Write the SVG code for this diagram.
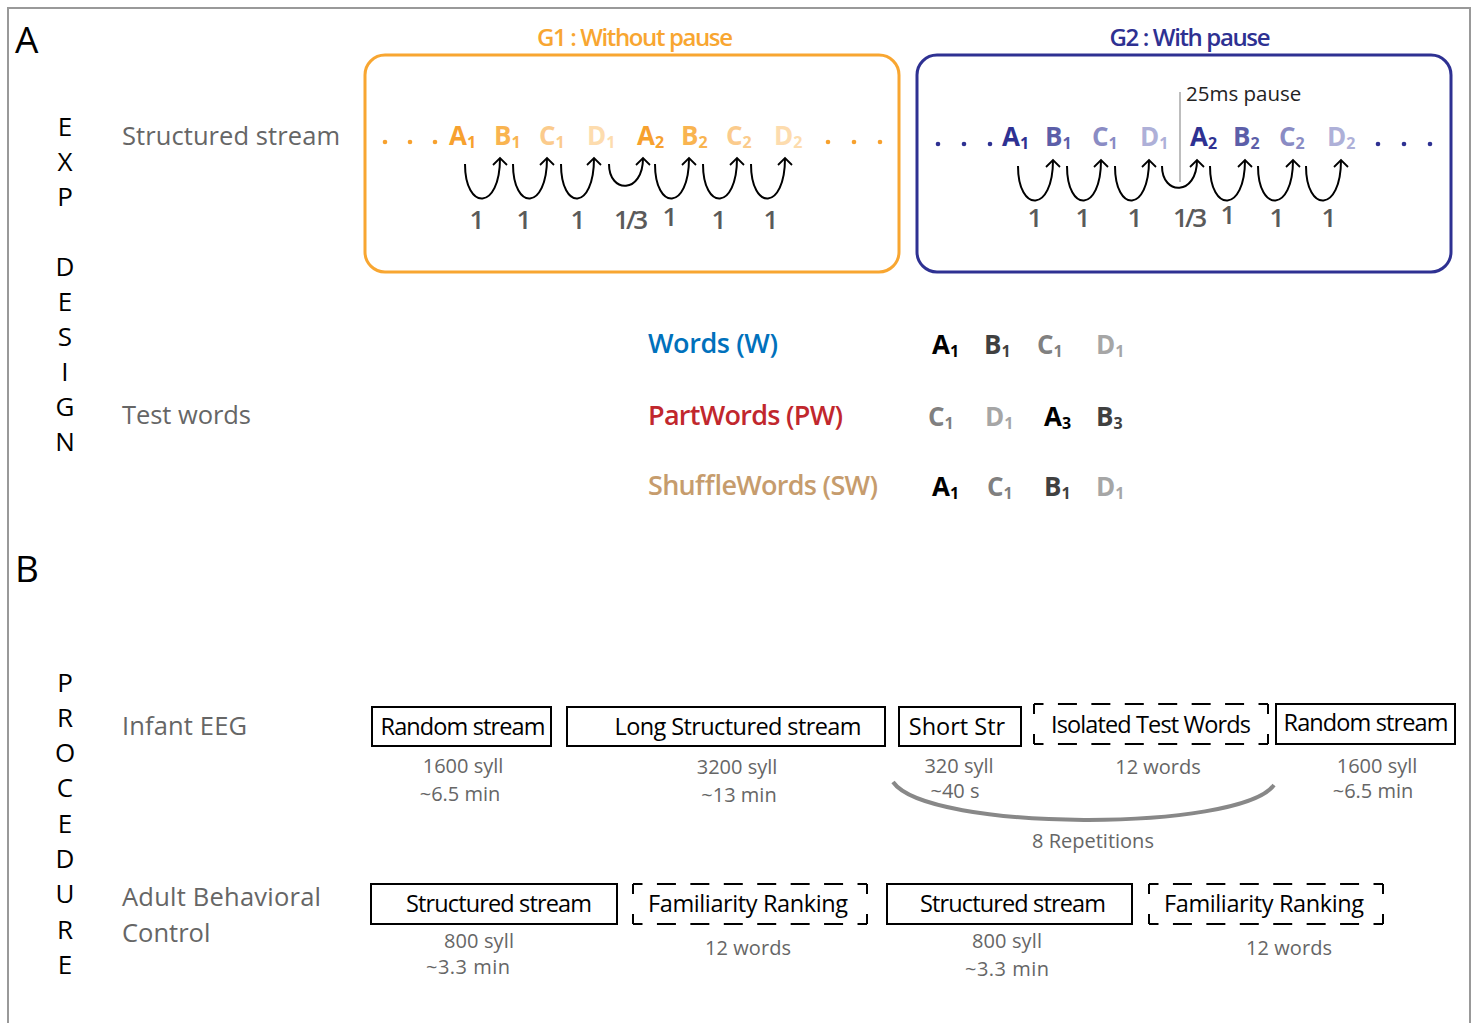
<svg xmlns="http://www.w3.org/2000/svg" width="1477" height="1023" viewBox="0 0 1477 1023">
<style>
text{font-family:"Open Sans","Noto Sans","DejaVu Sans",sans-serif}
.panel{font-size:37px;fill:#000}
.vl{font-size:26px;fill:#000;text-anchor:middle}
.lbl{font-size:25.5px;fill:#666}
.ttl{font-size:24px;font-weight:600;text-anchor:middle}
.syl{font-size:26px;font-weight:700}
.sub{font-size:16px}
.num{font-size:26px;font-weight:600;fill:#5a5a5a;text-anchor:middle}
.tw{font-size:27px;font-weight:600}
.wl{font-size:26px;font-weight:700}
.bt{font-size:23.5px;fill:#000;text-anchor:middle}
.st{font-size:20px;fill:#666;text-anchor:middle}
.box{fill:none;stroke:#000;stroke-width:2}
.dh{stroke:#000;stroke-width:2;stroke-dasharray:19 14.43;stroke-dashoffset:9.5}
.dv{stroke:#000;stroke-width:2;stroke-dasharray:10 20}
.arc{fill:none;stroke:#000;stroke-width:2;marker-end:url(#ah)}
.oA{fill:#F7A12E}.oB{fill:#F9B450}.oC{fill:#FBCB8C}.oD{fill:#FDDCAE}
.nA{fill:#2E3192}.nB{fill:#5C5EA8}.nC{fill:#8A8CC4}.nD{fill:#AEB0D8}
.kA{fill:#000}.kB{fill:#404040}.kC{fill:#808080}.kD{fill:#a6a6a6}
</style>
<defs>
<marker id="ah" markerWidth="16" markerHeight="16" refX="8" refY="8" orient="auto" markerUnits="userSpaceOnUse">
<path d="M1,1 L8,8 L1,15" fill="none" stroke="#000" stroke-width="1.8"/>
</marker>
</defs>
<rect x="8" y="8" width="1462" height="1030" fill="none" stroke="#999" stroke-width="2"/>

<g id="labels">
<text class="panel" x="15" y="53">A</text>
<text class="panel" x="15" y="582">B</text>
<g id="exp-design">
<text class="vl" x="65" y="136">E</text>
<text class="vl" x="65" y="171">X</text>
<text class="vl" x="65" y="206">P</text>
<text class="vl" x="65" y="276">D</text>
<text class="vl" x="65" y="311">E</text>
<text class="vl" x="65" y="346">S</text>
<text class="vl" x="65" y="381">I</text>
<text class="vl" x="65" y="416">G</text>
<text class="vl" x="65" y="451">N</text>
</g>
<g id="procedure">
<text class="vl" x="65" y="692">P</text>
<text class="vl" x="65" y="727">R</text>
<text class="vl" x="65" y="762">O</text>
<text class="vl" x="65" y="797">C</text>
<text class="vl" x="65" y="833">E</text>
<text class="vl" x="65" y="868">D</text>
<text class="vl" x="65" y="903">U</text>
<text class="vl" x="65" y="939">R</text>
<text class="vl" x="65" y="974">E</text>
</g>
<text class="lbl" x="122" y="145" textLength="218">Structured stream</text>
<text class="lbl" x="122" y="424" textLength="129">Test words</text>
<text class="lbl" x="122" y="735" textLength="125">Infant EEG</text>
<text class="lbl" x="122" y="906" textLength="199">Adult Behavioral</text>
<text class="lbl" x="122" y="942">Control</text>
</g>

<g id="g1">
<text class="ttl" x="635" y="46" fill="#F8A631" textLength="196">G1 : Without pause</text>
<rect x="365" y="55" width="534" height="217" rx="20" fill="none" stroke="#F8A631" stroke-width="3"/>
<g fill="#F7A12E">
<circle cx="385" cy="142" r="2.3"/><circle cx="410" cy="142" r="2.3"/><circle cx="435" cy="142" r="2.3"/>
<circle cx="828" cy="142" r="2.3"/><circle cx="854" cy="142" r="2.3"/><circle cx="880" cy="142" r="2.3"/>
</g>
<text class="syl oA" x="449" y="145">A<tspan class="sub" dy="3">1</tspan></text>
<text class="syl oB" x="494" y="145">B<tspan class="sub" dy="3">1</tspan></text>
<text class="syl oC" x="539" y="145">C<tspan class="sub" dy="3">1</tspan></text>
<text class="syl oD" x="587" y="145">D<tspan class="sub" dy="3">1</tspan></text>
<text class="syl oA" x="637" y="145">A<tspan class="sub" dy="3">2</tspan></text>
<text class="syl oB" x="681" y="145">B<tspan class="sub" dy="3">2</tspan></text>
<text class="syl oC" x="726" y="145">C<tspan class="sub" dy="3">2</tspan></text>
<text class="syl oD" x="774" y="145">D<tspan class="sub" dy="3">2</tspan></text>
<text class="num" x="477" y="229">1</text>
<text class="num" x="524" y="229">1</text>
<text class="num" x="578" y="229">1</text>
<text class="num" x="631" y="229" textLength="34">1/3</text>
<text class="num" x="670" y="226">1</text>
<text class="num" x="719" y="229">1</text>
<text class="num" x="771" y="229">1</text>
</g>

<g id="g2">
<text class="ttl" x="1190" y="46" fill="#2E3192" textLength="161">G2 : With pause</text>
<rect x="917" y="55" width="534" height="217" rx="20" fill="none" stroke="#2E3192" stroke-width="3"/>
<g fill="#2E3192">
<circle cx="938" cy="144" r="2.3"/><circle cx="964" cy="144" r="2.3"/><circle cx="990" cy="144" r="2.3"/>
<circle cx="1378" cy="144" r="2.3"/><circle cx="1404" cy="144" r="2.3"/><circle cx="1430" cy="144" r="2.3"/>
</g>
<line x1="1180" y1="92" x2="1180" y2="182" stroke="#9a9a9a" stroke-width="1.3"/>
<text x="1186" y="101" font-size="20.5" fill="#222">25ms pause</text>
<text class="syl nA" x="1002" y="146">A<tspan class="sub" dy="3">1</tspan></text>
<text class="syl nB" x="1045" y="146">B<tspan class="sub" dy="3">1</tspan></text>
<text class="syl nC" x="1092" y="146">C<tspan class="sub" dy="3">1</tspan></text>
<text class="syl nD" x="1140" y="146">D<tspan class="sub" dy="3">1</tspan></text>
<text class="syl nA" x="1190" y="146">A<tspan class="sub" dy="3">2</tspan></text>
<text class="syl nB" x="1233" y="146">B<tspan class="sub" dy="3">2</tspan></text>
<text class="syl nC" x="1279" y="146">C<tspan class="sub" dy="3">2</tspan></text>
<text class="syl nD" x="1327" y="146">D<tspan class="sub" dy="3">2</tspan></text>
<text class="num" x="1035" y="227">1</text>
<text class="num" x="1083" y="227">1</text>
<text class="num" x="1135" y="227">1</text>
<text class="num" x="1190" y="227" textLength="34">1/3</text>
<text class="num" x="1228" y="224">1</text>
<text class="num" x="1277" y="227">1</text>
<text class="num" x="1329" y="227">1</text>
</g>

<g id="connectors">
<path class="arc" d="M465 164 C465 211 500 211 500 158"/>
<path class="arc" d="M513 164 C513 211 547 211 547 158"/>
<path class="arc" d="M561 164 C561 211 594 211 594 158"/>
<path class="arc" d="M609 164 C609 194 643 194 643 158"/>
<path class="arc" d="M655 164 C655 211 689 211 689 158"/>
<path class="arc" d="M703 164 C703 211 737 211 737 158"/>
<path class="arc" d="M751 164 C751 211 785 211 785 158"/>
<path class="arc" d="M1018 166 C1018 213 1053 213 1053 160"/>
<path class="arc" d="M1067 166 C1067 213 1101 213 1101 160"/>
<path class="arc" d="M1115 166 C1115 213 1149 213 1149 160"/>
<path class="arc" d="M1162 166 C1162 196 1197 196 1197 160"/>
<path class="arc" d="M1210 166 C1210 213 1245 213 1245 160"/>
<path class="arc" d="M1258 166 C1258 213 1293 213 1293 160"/>
<path class="arc" d="M1306 166 C1306 213 1341 213 1341 160"/>
<path id="repetitions" d="M893 782 C928 832 1240 832 1274 785" fill="none" stroke="#888" stroke-width="4"/>
</g>

<g id="test-words">
<text class="tw" x="648" y="353" fill="#0071BC" textLength="130">Words (W)</text>
<text class="tw" x="648" y="425" fill="#C1272D" textLength="195">PartWords (PW)</text>
<text class="tw" x="648" y="495" fill="#C69C6D" textLength="230">ShuffleWords (SW)</text>
<text class="wl kA" x="932" y="354">A<tspan class="sub" dy="3">1</tspan></text>
<text class="wl kB" x="984" y="354">B<tspan class="sub" dy="3">1</tspan></text>
<text class="wl kC" x="1037" y="354">C<tspan class="sub" dy="3">1</tspan></text>
<text class="wl kD" x="1096" y="354">D<tspan class="sub" dy="3">1</tspan></text>
<text class="wl kC" x="928" y="426">C<tspan class="sub" dy="3">1</tspan></text>
<text class="wl kD" x="985" y="426">D<tspan class="sub" dy="3">1</tspan></text>
<text class="wl kA" x="1044" y="426">A<tspan class="sub" dy="3">3</tspan></text>
<text class="wl kB" x="1096" y="426">B<tspan class="sub" dy="3">3</tspan></text>
<text class="wl kA" x="932" y="496">A<tspan class="sub" dy="3">1</tspan></text>
<text class="wl kC" x="987" y="496">C<tspan class="sub" dy="3">1</tspan></text>
<text class="wl kB" x="1044" y="496">B<tspan class="sub" dy="3">1</tspan></text>
<text class="wl kD" x="1096" y="496">D<tspan class="sub" dy="3">1</tspan></text>
</g>

<g id="infant-random1">
<rect class="box" x="372" y="707" width="179" height="39"/>
<text class="bt" x="463" y="735" textLength="165">Random stream</text>
<text class="st" x="463" y="773">1600 syll</text>
<text class="st" x="460" y="801">~6.5 min</text>
</g>
<g id="infant-long">
<rect class="box" x="567" y="707" width="318" height="39"/>
<text class="bt" x="738" y="735" textLength="247">Long Structured stream</text>
<text class="st" x="737" y="774">3200 syll</text>
<text class="st" x="739" y="802">~13 min</text>
</g>
<g id="infant-short">
<rect class="box" x="899" y="707" width="122" height="39"/>
<text class="bt" x="957" y="735">Short Str</text>
<text class="st" x="959" y="773">320 syll</text>
<text class="st" x="955" y="798">~40 s</text>
</g>
<g id="infant-isolated">
<line class="dh" x1="1034" y1="704" x2="1268" y2="704"/>
<line class="dh" x1="1034" y1="744" x2="1268" y2="744"/>
<line class="dv" x1="1034" y1="704" x2="1034" y2="744"/>
<line class="dv" x1="1268" y1="704" x2="1268" y2="744"/>
<text class="bt" x="1151" y="733" textLength="200">Isolated Test Words</text>
<text class="st" x="1158" y="774">12 words</text>
</g>
<g id="infant-random2">
<rect class="box" x="1276" y="704" width="179" height="40"/>
<text class="bt" x="1366" y="731" textLength="165">Random stream</text>
<text class="st" x="1377" y="773">1600 syll</text>
<text class="st" x="1373" y="798">~6.5 min</text>
</g>
<text class="st" x="1093" y="848" font-size="21">8 Repetitions</text>

<g id="adult-structured1">
<rect class="box" x="371" y="884" width="246" height="40"/>
<text class="bt" x="499" y="912" textLength="186">Structured stream</text>
<text class="st" x="479" y="948" textLength="70">800 syll</text>
<text class="st" x="468" y="974" textLength="84">~3.3 min</text>
</g>
<g id="adult-familiarity1">
<line class="dh" x1="633" y1="884" x2="867" y2="884"/>
<line class="dh" x1="633" y1="924" x2="867" y2="924"/>
<line class="dv" x1="633" y1="884" x2="633" y2="924"/>
<line class="dv" x1="867" y1="884" x2="867" y2="924"/>
<text class="bt" x="748" y="912" textLength="200">Familiarity Ranking</text>
<text class="st" x="748" y="955" textLength="86">12 words</text>
</g>
<g id="adult-structured2">
<rect class="box" x="887" y="884" width="245" height="40"/>
<text class="bt" x="1013" y="912" textLength="186">Structured stream</text>
<text class="st" x="1007" y="948" textLength="70">800 syll</text>
<text class="st" x="1007" y="976" textLength="84">~3.3 min</text>
</g>
<g id="adult-familiarity2">
<line class="dh" x1="1149" y1="884" x2="1383" y2="884"/>
<line class="dh" x1="1149" y1="924" x2="1383" y2="924"/>
<line class="dv" x1="1149" y1="884" x2="1149" y2="924"/>
<line class="dv" x1="1383" y1="884" x2="1383" y2="924"/>
<text class="bt" x="1264" y="912" textLength="200">Familiarity Ranking</text>
<text class="st" x="1289" y="955" textLength="86">12 words</text>
</g>
</svg>
